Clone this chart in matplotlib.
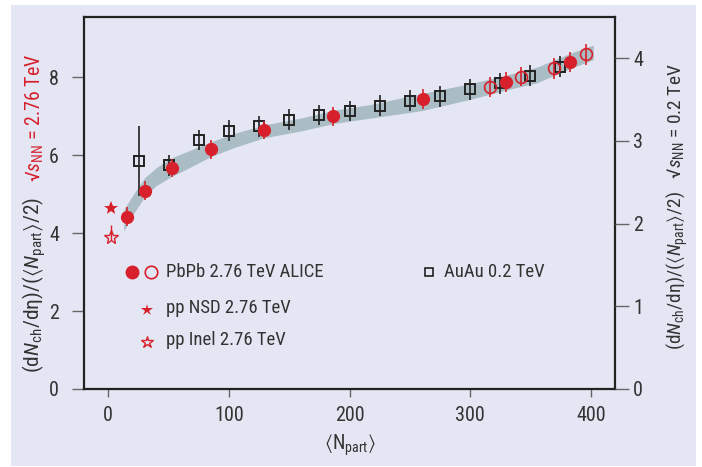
import matplotlib
matplotlib.use('Agg')
import matplotlib.pyplot as plt
from matplotlib import font_manager
from matplotlib.patches import Rectangle

# PbPb 2.76 TeV ALICE, filled points
pb_x = [16.0, 30.2, 52.7, 85.2, 129.1, 186.7, 260.5, 329.8, 382.6]
pb_y = [4.42, 5.09, 5.67, 6.15, 6.64, 6.99, 7.44, 7.87, 8.39]
pb_err = [0.25, 0.25, 0.24, 0.24, 0.24, 0.24, 0.25, 0.26, 0.26]

# PbPb 2.76 TeV ALICE, open points
pbo_x = [316.6, 342.0, 369.2, 395.7]
pbo_y = [7.74, 8.01, 8.22, 8.59]
pbo_err = [0.25, 0.25, 0.26, 0.27]

# AuAu 0.2 TeV (scaled, drawn on left scale)
au_x = [25.4, 50.2, 75.2, 100.3, 125.1, 150.2, 175.0, 200.3, 225.1,
        250.2, 275.0, 300.0, 324.8, 349.9, 374.7]
au_y = [5.85, 5.74, 6.39, 6.62, 6.74, 6.90, 7.03, 7.13, 7.27,
        7.39, 7.51, 7.69, 7.84, 8.03, 8.26]
au_err = [0.90, 0.27, 0.26, 0.27, 0.27, 0.27, 0.26, 0.26, 0.27,
          0.27, 0.27, 0.27, 0.27, 0.27, 0.27]

# pp points
nsd_x, nsd_y = [2.3], [4.64]
inel_x, inel_y = [2.3], [3.91]
inel_err_lo, inel_err_hi = [0.08], [0.30]

# grey band
band_x = [13, 20, 30, 40, 52, 70, 85, 105, 129, 160, 187, 220, 260, 300, 330, 355, 383, 402]
band_lo = [4.05, 4.45, 4.92, 5.22, 5.44, 5.72, 5.96, 6.2, 6.44, 6.62, 6.81, 6.96, 7.14, 7.43, 7.67, 7.85, 8.22, 8.45]
band_hi = [4.6, 4.95, 5.41, 5.68, 5.92, 6.15, 6.34, 6.56, 6.77, 6.95, 7.15, 7.31, 7.58, 7.83, 8.05, 8.25, 8.61, 8.82]

red = '#d7202b'
bg = '#e4e6f3'
band_col = '#aabcc4'
dark = '#222222'
txt = '#333333'

# pick a narrow face if one is there
installed = {f.name for f in font_manager.fontManager.ttflist}
main_font = 'DejaVu Sans'
for name in ['Roboto Condensed', 'Liberation Sans Narrow', 'Open Sans Condensed',
             'DejaVu Sans Condensed', 'Roboto', 'Liberation Sans']:
    if name in installed:
        main_font = name
        break

plt.rcParams['font.family'] = [main_font, 'DejaVu Sans']
plt.rcParams['mathtext.fontset'] = 'custom'
plt.rcParams['mathtext.rm'] = main_font
plt.rcParams['mathtext.it'] = main_font + ':italic'
plt.rcParams['mathtext.fallback'] = 'stixsans'

fs = 13.5
tfs = 14.5

fig = plt.figure(figsize=(7.02, 4.67), dpi=100, facecolor='white')
fig.patches.append(Rectangle((11/702, 1/467), 685/702, 461/467, transform=fig.transFigure,
                             facecolor=bg, edgecolor='none', zorder=-10))
ax = fig.add_axes([84/702, 1 - 389/467, 531/702, 372/467])
ax.set_facecolor(bg)

ax.fill_between(band_x, band_lo, band_hi, color=band_col, lw=0, zorder=1)

ax.errorbar(au_x, au_y, yerr=au_err, fmt='s', ms=6.5, mfc='none', mec=dark, mew=1.4,
            ecolor=dark, elinewidth=1.2, capsize=0, zorder=3)
ax.errorbar(pbo_x, pbo_y, yerr=pbo_err, fmt='o', ms=8.5, mfc='none', mec=red, mew=1.2,
            ecolor=red, elinewidth=1.2, capsize=0, zorder=4)
ax.errorbar(pb_x, pb_y, yerr=pb_err, fmt='o', ms=8.5, mfc=red, mec=red,
            ecolor=red, elinewidth=1.2, capsize=0, zorder=5)
ax.plot(nsd_x, nsd_y, '*', ms=10, color=red, mew=0, zorder=5)
ax.errorbar(inel_x, inel_y, yerr=[inel_err_lo, inel_err_hi], fmt='*', ms=10, mfc='none',
            mec=red, mew=1.0, ecolor=red, elinewidth=1.0, capsize=0, zorder=5)

ax.set_xlim(-20, 420)
ax.set_ylim(0, 9.54)
ax.set_xticks([0, 100, 200, 300, 400])
ax.set_yticks([0, 2, 4, 6, 8])
for s in ax.spines.values():
    s.set_color(dark)
    s.set_linewidth(1.6)
ax.tick_params(axis='x', direction='out', length=6, width=1, color='#666666',
               labelsize=tfs, labelcolor=txt, pad=6)
ax.tick_params(axis='y', direction='out', length=9, width=1, color='#666666',
               labelsize=tfs, labelcolor=txt, pad=9)

ax2 = ax.twinx()
ax2.set_ylim(0, 4.5)
ax2.set_yticks([0, 1, 2, 3, 4])
ax2.tick_params(axis='y', direction='out', length=10, width=1, color='#666666',
                labelsize=tfs, labelcolor=txt, pad=3)
for s in ax2.spines.values():
    s.set_visible(False)

ax.set_xlabel(r'$\langle$N$_{\rm part}\rangle$', fontsize=tfs, color=txt, labelpad=6)

# vertical axis titles, sized so they span the same pixels as in the original
renderer = fig.canvas.get_renderer()


def side_title(xpix, ybot, ytop, s, color):
    t = fig.text(xpix / 702, 1 - ybot / 467, s, rotation=90, ha='center', va='bottom',
                 fontsize=12, color=color)
    for _ in range(3):
        h = t.get_window_extent(renderer).height
        t.set_fontsize(t.get_fontsize() * (ybot - ytop) / h)
    return t


ylab = r'(d$N_{\rm ch}$/dη)/($\langle N_{\rm part}\rangle$/2)'
side_title(34, 373, 197, ylab, txt)
side_title(35, 182, 53, r'√$s_{\rm NN}$ = 2.76 TeV', red)
side_title(677, 350, 65, ylab + r'   √$s_{\rm NN}$ = 0.2 TeV', txt)

# legend drawn by hand
tr = ax.transAxes
ax.plot([0.0904], [0.3137], 'o', ms=9, color=red, transform=tr, clip_on=False)
ax.plot([0.1262], [0.3137], 'o', ms=9, mfc='none', mec=red, mew=1.2, transform=tr)
ax.plot([0.1182], [0.2124], '*', ms=9, color=red, mew=0, transform=tr)
ax.plot([0.1182], [0.1272], '*', ms=9, mfc='none', mec=red, mew=1.0, transform=tr)
ax.plot([0.6501], [0.3153], 's', ms=6, mfc='none', mec=dark, mew=1.2, transform=tr)
ax.text(0.154, 0.314, 'PbPb 2.76 TeV ALICE', transform=tr, va='center', fontsize=fs, color=txt)
ax.text(0.154, 0.2185, 'pp NSD 2.76 TeV', transform=tr, va='center', fontsize=fs, color=txt)
ax.text(0.154, 0.1317, 'pp Inel 2.76 TeV', transform=tr, va='center', fontsize=fs, color=txt)
ax.text(0.678, 0.314, 'AuAu 0.2 TeV', transform=tr, va='center', fontsize=fs, color=txt)

fig.savefig('out.png', dpi=100, facecolor='white')
